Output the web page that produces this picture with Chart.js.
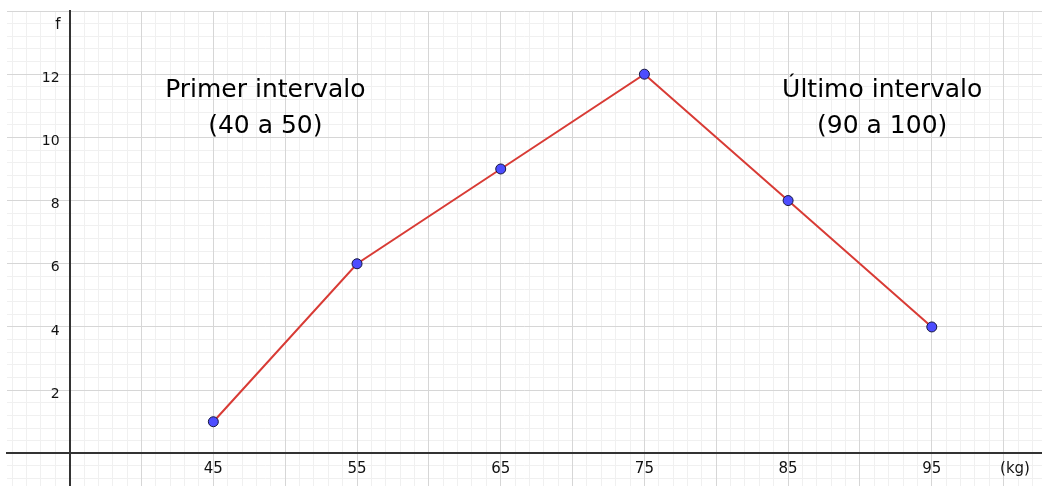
<!DOCTYPE html>
<html>
<head>
<meta charset="utf-8">
<script src="https://cdn.jsdelivr.net/npm/chart.js@4.4.1/dist/chart.umd.min.js"></script>
<style>
  html, body { margin: 0; padding: 0; background: #ffffff; }
  #c { display: block; }
</style>
</head>
<body>
<canvas id="c" width="1042" height="486"></canvas>
<script>
// ---- data ----
const classMarks = [45, 55, 65, 75, 85, 95];          // kg (class midpoints)
const frequencies = [1, 6, 9, 12, 8, 4];              // f
const xTickLabels = [45, 55, 65, 75, 85, 95];
const yTickLabels = [2, 4, 6, 8, 10, 12];
const xAxisName = '(kg)';
const yAxisName = 'f';
const noteTexts = [
  ['Primer intervalo', '(40 a 50)'],
  ['Último intervalo', '(90 a 100)']
];

// ---- view window (GeoGebra-like graphics view) ----
const X_MIN = 30.64, X_MAX = 102.67;
const Y_MIN = -1.034, Y_MAX = 14;
const AXIS_X_AT = 35;   // vertical axis drawn at x = 35
const AXIS_Y_AT = 0;    // horizontal axis drawn at y = 0
const Y_LABELS_AT = 34.3;

const FONT = 'DejaVu Sans';
const noPad = (s) => { s.paddingTop = 0; s.paddingBottom = 0; s.paddingLeft = 0; s.paddingRight = 0; };

const points = classMarks.map((x, i) => ({ x: x, y: frequencies[i] }));

const textPlugin = {
  id: 'ggbTexts',
  afterDatasetsDraw(chart) {
    const ctx = chart.ctx;
    const xs = chart.scales.x, ys = chart.scales.y;
    ctx.save();
    ctx.fillStyle = '#000000';
    ctx.textAlign = 'center';
    ctx.textBaseline = 'alphabetic';
    ctx.font = '25px "' + FONT + '"';
    const notePos = [[48.62, 11.28, 10.13], [91.55, 11.28, 10.13]];
    noteTexts.forEach((lines, i) => {
      const p = notePos[i];
      ctx.fillText(lines[0], xs.getPixelForValue(p[0]), ys.getPixelForValue(p[1]));
      ctx.fillText(lines[1], xs.getPixelForValue(p[0]), ys.getPixelForValue(p[2]));
    });
    ctx.fillStyle = '#111111';
    ctx.font = '15px "' + FONT + '"';
    ctx.fillText(xAxisName, xs.getPixelForValue(100.79), ys.getPixelForValue(-0.62));
    ctx.fillText(yAxisName, xs.getPixelForValue(34.19), ys.getPixelForValue(13.42));
    ctx.restore();
  }
};

new Chart(document.getElementById('c'), {
  type: 'line',
  data: {
    datasets: [{
      data: points,
      borderColor: '#d83b35',
      borderWidth: 2,
      tension: 0,
      fill: false,
      pointRadius: 5,
      pointHoverRadius: 5,
      pointBackgroundColor: '#4d4dff',
      pointBorderColor: '#161640',
      pointBorderWidth: 1
    }]
  },
  options: {
    responsive: false,
    animation: false,
    events: [],
    layout: { autoPadding: false, padding: { left: 7, top: 11, right: 0, bottom: 0 } },
    plugins: { legend: { display: false }, tooltip: { enabled: false } },
    scales: {
      xMinor: {
        type: 'linear', axis: 'x', min: X_MIN, max: X_MAX,
        position: { y: AXIS_Y_AT },
        ticks: { display: false, stepSize: 1, includeBounds: false },
        grid: { color: '#f0f0f0', lineWidth: 1, drawTicks: false, z: -2 },
        border: { display: false },
        afterFit: noPad
      },
      yMinor: {
        type: 'linear', axis: 'y', min: Y_MIN, max: Y_MAX,
        position: { x: AXIS_X_AT },
        ticks: { display: false, stepSize: 0.4, includeBounds: false },
        grid: { color: '#f0f0f0', lineWidth: 1, drawTicks: false, z: -2 },
        border: { display: false },
        afterFit: noPad
      },
      x: {
        type: 'linear', min: X_MIN, max: X_MAX,
        position: { y: AXIS_Y_AT },
        ticks: {
          stepSize: 5, includeBounds: false, padding: 7, maxRotation: 0, autoSkip: false,
          color: '#111111', font: { family: FONT, size: 15 },
          callback: (v) => xTickLabels.includes(v) ? String(v) : ''
        },
        grid: { color: '#d6d6d6', lineWidth: 1, drawTicks: false, z: -1 },
        border: { display: true, color: '#333333', width: 2 },
        afterFit: noPad
      },
      y: {
        type: 'linear', min: Y_MIN, max: Y_MAX,
        position: { x: AXIS_X_AT },
        ticks: { display: false, stepSize: 2, includeBounds: false },
        grid: { color: '#d6d6d6', lineWidth: 1, drawTicks: false, z: -1 },
        border: { display: true, color: '#333333', width: 2 },
        afterFit: noPad
      },
      yLabels: {
        type: 'linear', axis: 'y', min: Y_MIN, max: Y_MAX,
        position: { x: Y_LABELS_AT },
        ticks: {
          stepSize: 2, includeBounds: false, padding: 0, labelOffset: 4, autoSkip: false,
          color: '#111111', font: { family: FONT, size: 14 },
          callback: (v) => yTickLabels.includes(v) ? String(v) : ''
        },
        grid: { display: false, drawTicks: false },
        border: { display: false },
        afterFit: noPad
      }
    }
  },
  plugins: [textPlugin]
});
</script>
</body>
</html>
